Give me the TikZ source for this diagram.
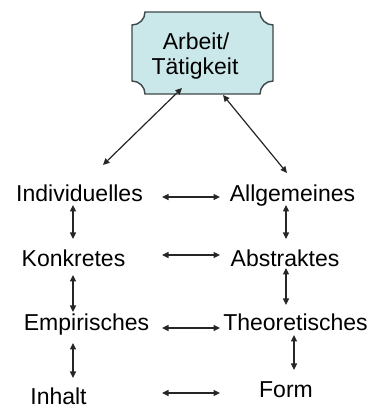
\documentclass[tikz,border=0pt]{standalone}
\usepackage{fontspec}
\setmainfont{Liberation Sans}
\usetikzlibrary{arrows.meta}
\definecolor{plaquefill}{RGB}{202,231,233}
\definecolor{plaqueline}{RGB}{60,72,74}
\begin{document}
\begin{tikzpicture}[x=1pt,y=1pt,
  word/.style={anchor=base,inner sep=0pt,font=\fontsize{23}{28}\selectfont},
  link/.style={{Triangle[length=6.5pt,width=6pt]}-{Triangle[length=6.5pt,width=6pt]},line width=1.2pt,black!85},
  plaque/.style={draw=plaqueline,line width=1.4pt,fill=plaquefill}]
\useasboundingbox (0,0) rectangle (372,412);
% plaque box
\path[plaque] (145,400) -- (260,400) arc[start angle=180,end angle=270,radius=13pt]
  -- (273,331) arc[start angle=90,end angle=180,radius=13pt]
  -- (145,318) arc[start angle=0,end angle=90,radius=13pt]
  -- (132,387) arc[start angle=270,end angle=360,radius=13pt] -- cycle;
\node[word] (arb) at (196,362) {Arbeit/};
\node[word] (tat) at (195,337) {Tätigkeit};
% words
\node[word] (ind) at (79.5,210) {Individuelles};
\node[word] (all) at (292.5,210) {Allgemeines};
\node[word] (kon) at (73.5,145) {Konkretes};
\node[word] (abs) at (285,145) {Abstraktes};
\node[word] (emp) at (86.5,81) {Empirisches};
\node[word] (the) at (295.5,81) {Theoretisches};
\node[word] (inh) at (58.5,7) {Inhalt};
\node[word] (for) at (286,14) {Form};
% arrow end points
\coordinate (tl) at (182,324); \coordinate (il) at (103,247);
\coordinate (tr) at (223,317); \coordinate (ar) at (287,239);
\coordinate (h1a) at (162,215); \coordinate (h1b) at (220,215);
\coordinate (h2a) at (162,157); \coordinate (h2b) at (220,157);
\coordinate (h3a) at (162,84);  \coordinate (h3b) at (220,84);
\coordinate (h4a) at (162,19);  \coordinate (h4b) at (220,19);
\coordinate (l1a) at (73,207);  \coordinate (l1b) at (73,173);
\coordinate (r1a) at (286,207); \coordinate (r1b) at (286,173);
\coordinate (l2a) at (73,137);  \coordinate (l2b) at (73,100);
\coordinate (r2a) at (286,144); \coordinate (r2b) at (286,107);
\coordinate (l3a) at (73,69);   \coordinate (l3b) at (73,34);
\coordinate (r3a) at (294,77);  \coordinate (r3b) at (294,42);
% connectors
\draw[link] (tl) -- (il);
\draw[link] (tr) -- (ar);
\draw[link] (h1a) -- (h1b);
\draw[link] (h2a) -- (h2b);
\draw[link] (h3a) -- (h3b);
\draw[link] (h4a) -- (h4b);
\draw[link] (l1a) -- (l1b);
\draw[link] (r1a) -- (r1b);
\draw[link] (l2a) -- (l2b);
\draw[link] (r2a) -- (r2b);
\draw[link] (l3a) -- (l3b);
\draw[link] (r3a) -- (r3b);
\end{tikzpicture}
\end{document}
